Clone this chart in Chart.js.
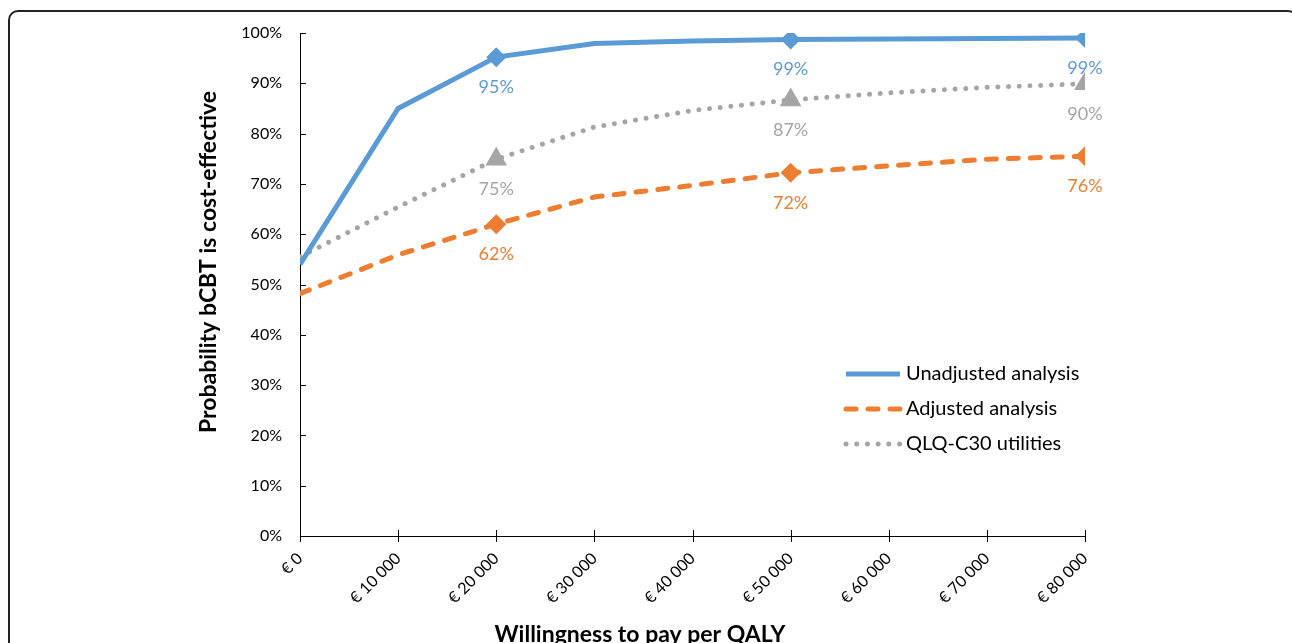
<!DOCTYPE html>
<html>
<head>
<meta charset="utf-8">
<script src="https://cdn.jsdelivr.net/npm/chart.js@4.4.1/dist/chart.umd.min.js"></script>
<style>
    html, body { margin: 0; padding: 0; background: #fff; overflow: hidden; }
    #chart { position: absolute; left: 0; top: 0; }
    #frame {
        position: absolute; left: 8px; top: 10px;
        width: 1290px; height: 700px;
        border: 2px solid #222; border-radius: 10px;
        box-sizing: border-box; pointer-events: none;
    }
</style>
</head>
<body>
<canvas id="chart" width="1292" height="643"></canvas>
<div id="frame"></div>
<script>
// Willingness to pay (euro per QALY) and probability (%) per analysis
const WTP = [0, 10000, 20000, 30000, 40000, 50000, 60000, 70000, 80000];
const UNADJUSTED = [54.0, 85.0, 95.2, 97.9, 98.4, 98.7, 98.8, 98.9, 99.0];
const ADJUSTED = [48.2, 55.9, 62.0, 67.4, 69.7, 72.2, 73.6, 74.9, 75.5];
const QLQ_C30 = [55.5, 65.4, 74.9, 81.3, 84.6, 86.7, 88.1, 89.2, 89.9];

// Points that get a marker and a value label
const MARKED_WTP = [20000, 50000, 80000];

const X_TICK_LABELS = ['€ 0', '€ 10 000', '€ 20 000', '€ 30 000', '€ 40 000',
    '€ 50 000', '€ 60 000', '€ 70 000', '€ 80 000'];
const Y_TICK_LABELS = ['0%', '10%', '20%', '30%', '40%', '50%', '60%', '70%', '80%', '90%', '100%'];

const X_TITLE = 'Willingness to pay per QALY';
const Y_TITLE = 'Probability bCBT is cost-effective';

const BLUE = '#5B9BD5';
const ORANGE = '#ED7D31';
const GRAY = '#A5A5A5';
const TEXT = '#000';

Chart.defaults.font.family = 'Lato';

function toPoints(values) {
    return WTP.map((w, i) => ({ x: w, y: values[i] }));
}

function markerRadius(r) {
    return (ctx) => MARKED_WTP.includes(WTP[ctx.dataIndex]) ? r : 0;
}

// Small tick marks: inside for the y axis, crossing for the x axis
const axisTicks = {
    id: 'axisTicks',
    beforeDatasetsDraw(chart) {
        const { ctx, chartArea, scales: { x, y } } = chart;
        ctx.save();
        ctx.strokeStyle = TEXT;
        ctx.lineWidth = 1;
        ctx.beginPath();
        y.ticks.forEach((t) => {
            const py = Math.round(y.getPixelForValue(t.value)) + 0.5;
            ctx.moveTo(chartArea.left, py);
            ctx.lineTo(chartArea.left + 6, py);
        });
        x.ticks.forEach((t) => {
            const px = Math.round(x.getPixelForValue(t.value)) + 0.5;
            ctx.moveTo(px, chartArea.bottom - 6);
            ctx.lineTo(px, chartArea.bottom + 6);
        });
        ctx.stroke();
        ctx.restore();
    }
};

// Percent labels under the marked points
const pointLabels = {
    id: 'pointLabels',
    afterDatasetsDraw(chart) {
        const ctx = chart.ctx;
        ctx.save();
        ctx.font = '18px Lato';
        ctx.textAlign = 'center';
        ctx.textBaseline = 'middle';
        chart.data.datasets.forEach((ds, di) => {
            const meta = chart.getDatasetMeta(di);
            ctx.fillStyle = ds.borderColor;
            WTP.forEach((w, i) => {
                if (!MARKED_WTP.includes(w)) return;
                const el = meta.data[i];
                ctx.fillText(Math.round(ds.data[i].y) + '%', el.x, el.y + 30);
            });
        });
        ctx.restore();
    }
};

// Legend inside the plot area, lower right
const insideLegend = {
    id: 'insideLegend',
    afterDraw(chart) {
        const ctx = chart.ctx;
        ctx.save();
        ctx.font = '20px Lato';
        ctx.textAlign = 'left';
        ctx.textBaseline = 'middle';
        chart.data.datasets.forEach((ds, i) => {
            const y = 374 + i * 35;
            ctx.strokeStyle = ds.borderColor;
            ctx.lineWidth = ds.borderWidth;
            ctx.lineCap = ds.borderCapStyle || 'butt';
            ctx.setLineDash(ds.borderDash || []);
            ctx.beginPath();
            ctx.moveTo(846, y);
            ctx.lineTo(900, y);
            ctx.stroke();
            ctx.setLineDash([]);
            ctx.fillStyle = TEXT;
            ctx.fillText(ds.label, 906, y);
        });
        ctx.restore();
    }
};

// Axis titles (offset from the plot centre, as in the original)
const axisTitles = {
    id: 'axisTitles',
    afterDraw(chart) {
        const ctx = chart.ctx;
        ctx.save();
        ctx.fillStyle = TEXT;
        ctx.font = 'bold 23px Lato';
        ctx.textAlign = 'center';
        ctx.textBaseline = 'middle';
        ctx.fillText(X_TITLE, 640, 635);
        ctx.translate(209, 262);
        ctx.rotate(-Math.PI / 2);
        ctx.fillText(Y_TITLE, 0, 0);
        ctx.restore();
    }
};

chart = new Chart(document.getElementById('chart'), {
    type: 'line',
    data: {
        datasets: [
            {
                label: 'Unadjusted analysis',
                data: toPoints(UNADJUSTED),
                borderColor: BLUE,
                backgroundColor: BLUE,
                pointBackgroundColor: BLUE,
                borderWidth: 5,
                pointStyle: 'rectRot',
                pointRadius: markerRadius(10),
                pointHoverRadius: markerRadius(10),
                pointBorderWidth: 0,
                tension: 0
            },
            {
                label: 'Adjusted analysis',
                data: toPoints(ADJUSTED),
                borderColor: ORANGE,
                backgroundColor: ORANGE,
                pointBackgroundColor: ORANGE,
                borderWidth: 5,
                borderDash: [10, 12],
                borderCapStyle: 'round',
                pointStyle: 'rectRot',
                pointRadius: markerRadius(10),
                pointHoverRadius: markerRadius(10),
                pointBorderWidth: 0,
                tension: 0
            },
            {
                label: 'QLQ-C30 utilities',
                data: toPoints(QLQ_C30),
                borderColor: GRAY,
                backgroundColor: GRAY,
                pointBackgroundColor: GRAY,
                borderWidth: 5,
                borderDash: [0.01, 10.7],
                borderCapStyle: 'round',
                pointStyle: 'triangle',
                pointRadius: markerRadius(12.5),
                pointHoverRadius: markerRadius(12.5),
                pointBorderWidth: 0,
                tension: 0
            }
        ]
    },
    options: {
        responsive: false,
        animation: false,
        layout: {
            padding: { left: 0, top: 33, right: 207, bottom: 0 }
        },
        scales: {
            x: {
                type: 'linear',
                min: 0,
                max: 80000,
                afterFit: (scale) => { scale.height = 107; },
                grid: { display: false, drawTicks: false },
                border: { display: true, color: TEXT, width: 1 },
                ticks: {
                    stepSize: 10000,
                    autoSkip: false,
                    minRotation: 45,
                    maxRotation: 45,
                    padding: 13,
                    color: TEXT,
                    font: { size: 16 },
                    callback: (value, index) => X_TICK_LABELS[index]
                }
            },
            y: {
                min: 0,
                max: 100,
                afterFit: (scale) => { scale.width = 300; },
                grid: { display: false, drawTicks: false },
                border: { display: true, color: TEXT, width: 1 },
                ticks: {
                    stepSize: 10,
                    padding: 18,
                    color: TEXT,
                    font: { size: 16 },
                    callback: (value, index) => Y_TICK_LABELS[index]
                }
            }
        },
        plugins: {
            legend: { display: false },
            tooltip: { enabled: false }
        }
    },
    plugins: [axisTicks, pointLabels, insideLegend, axisTitles]
});
</script>
</body>
</html>
